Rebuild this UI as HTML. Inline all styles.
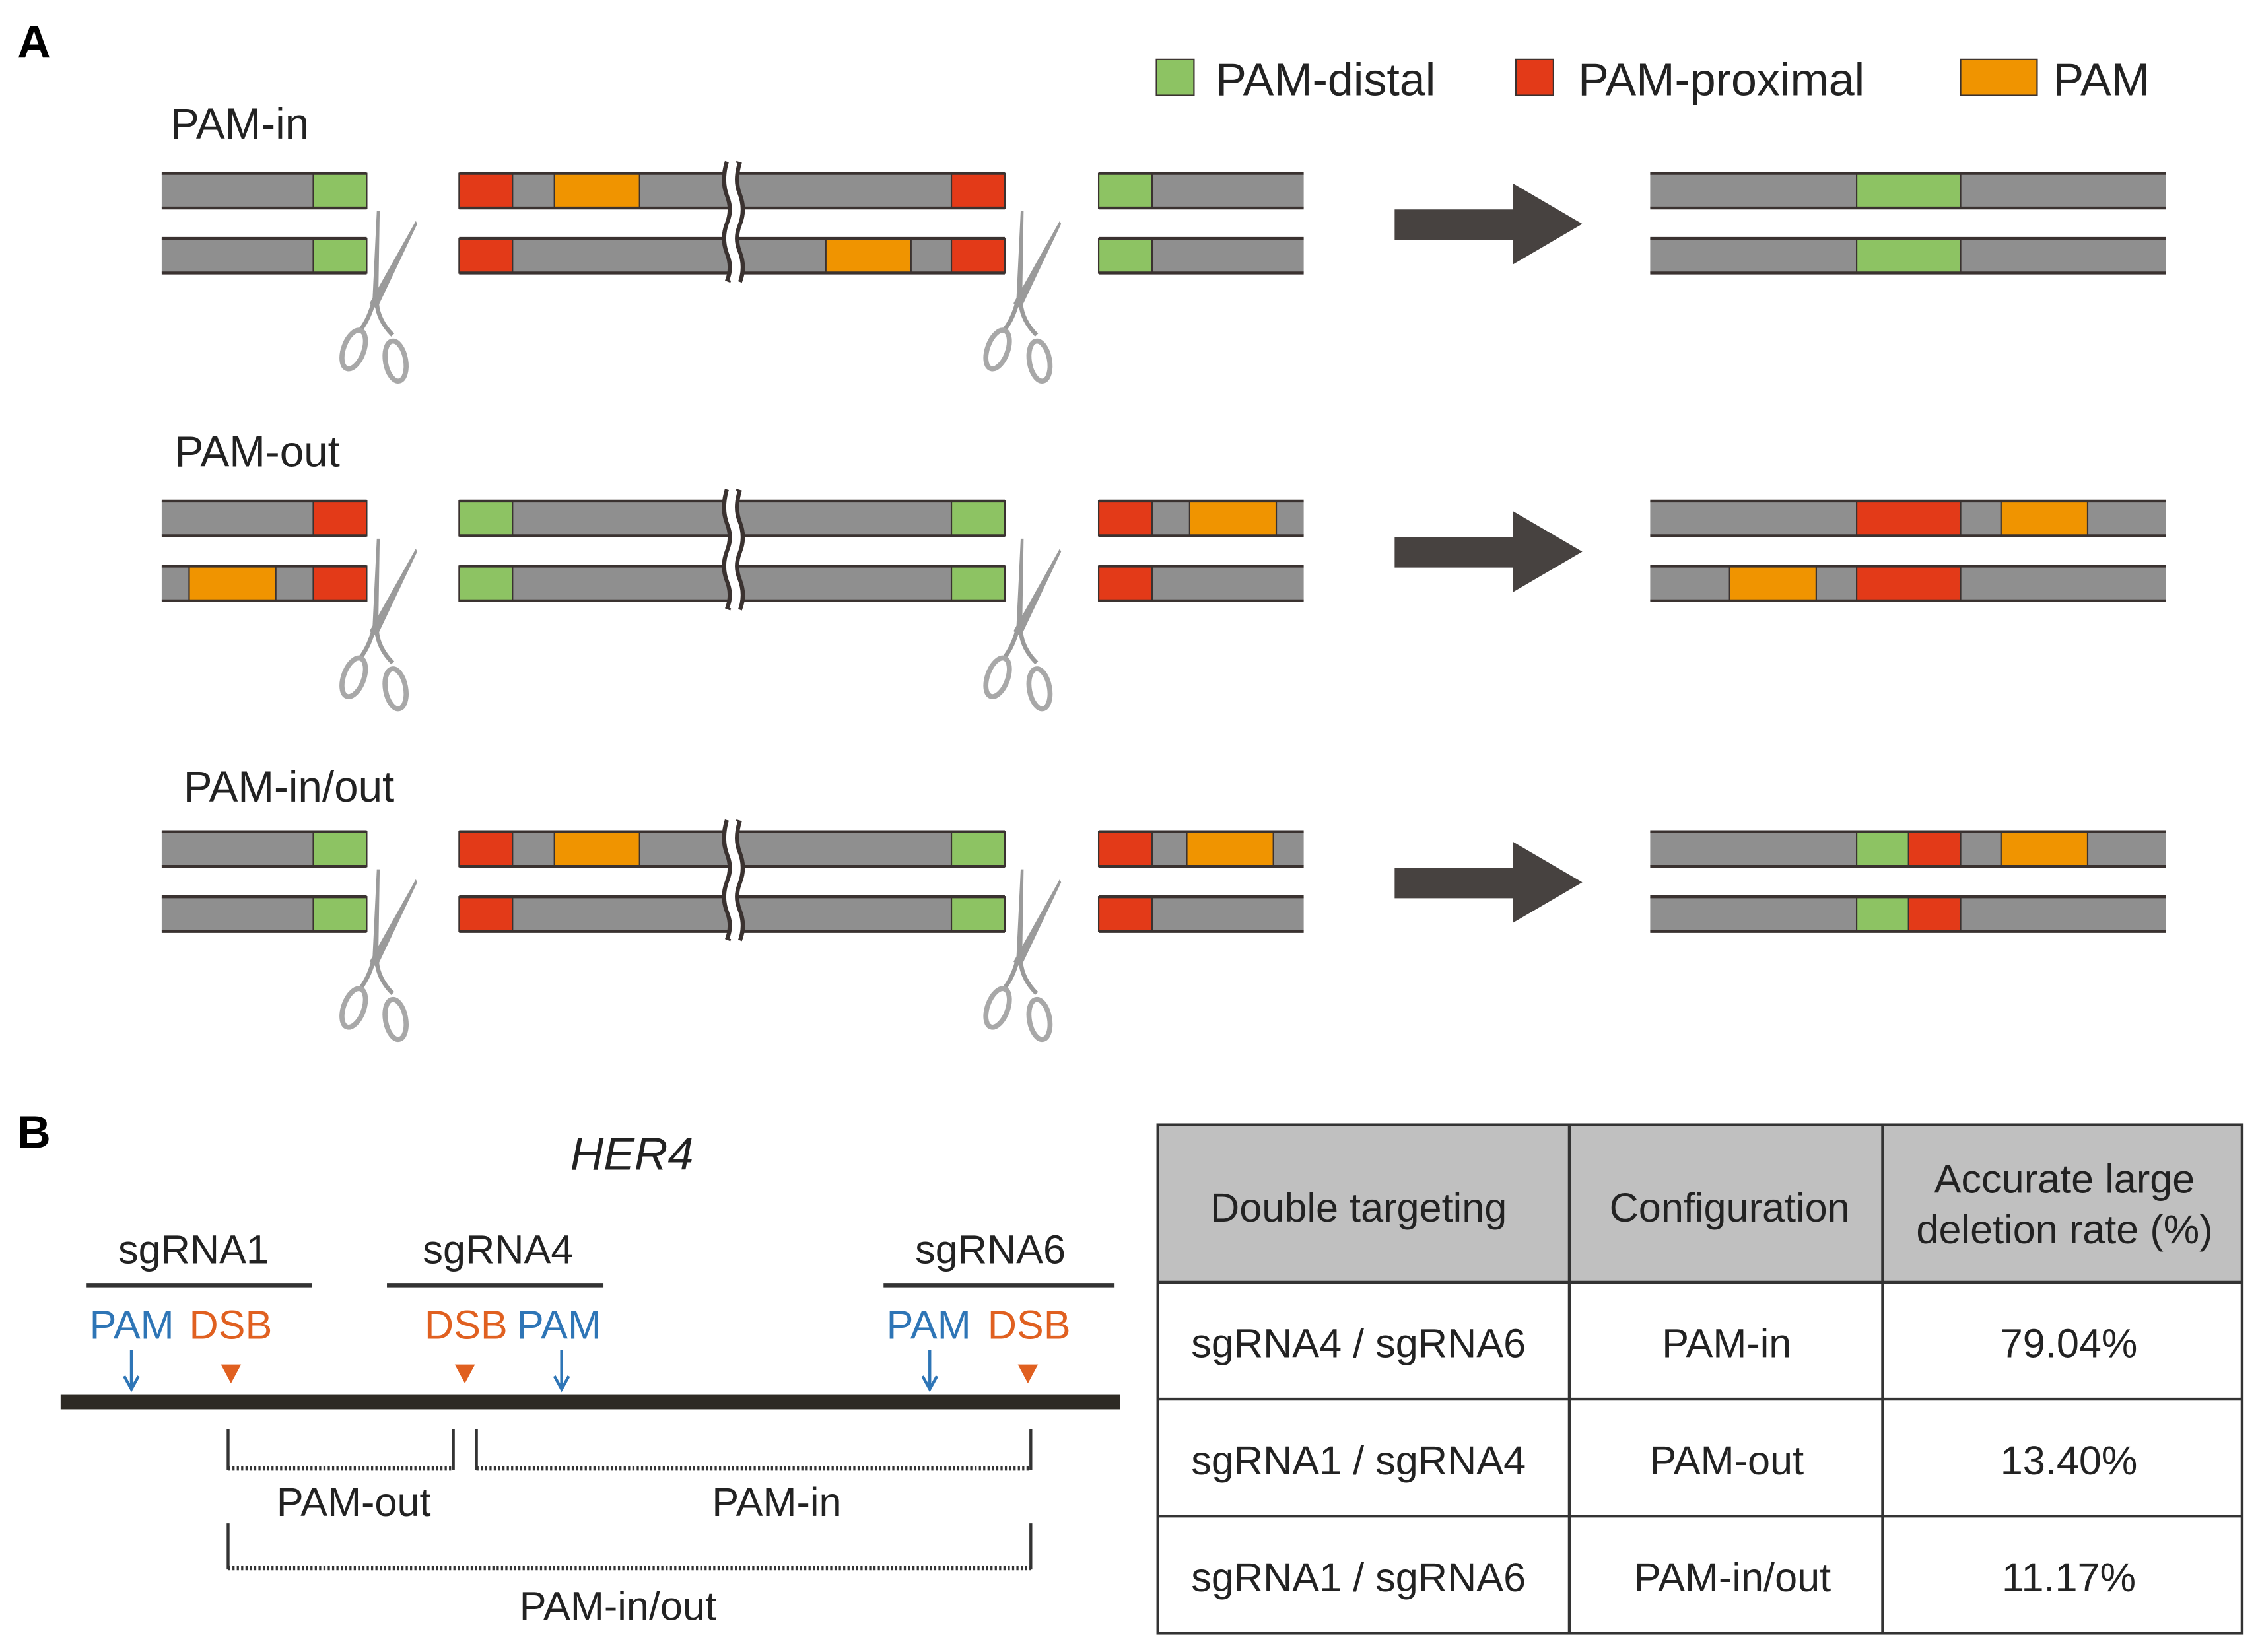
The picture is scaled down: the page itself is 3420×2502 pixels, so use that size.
<!DOCTYPE html>
<html><head><meta charset="utf-8"><style>
html,body{margin:0;padding:0;background:#fff;}
svg{display:block;}
text{font-family:"Liberation Sans",Arial,sans-serif;}
</style></head><body>
<svg width="3420" height="2502" viewBox="0 0 1564 1144" xmlns="http://www.w3.org/2000/svg">
<defs>
<g id="sc">
  <path d="M0,0 L3,-62 L5,-62 L4,0 Z" fill="#9a9a9a"/>
  <path d="M-2,2 L30,-55 L31,-53 L3,6 Z" fill="#9a9a9a"/>
  <path d="M1,0 Q-2,12 -8,20" stroke="#9a9a9a" stroke-width="3" fill="none"/>
  <path d="M3,2 Q4,14 14,24" stroke="#9a9a9a" stroke-width="3" fill="none"/>
  <ellipse cx="-13" cy="34" rx="7" ry="14" transform="rotate(20 -13 34)" fill="none" stroke="#a8a8a8" stroke-width="3.5"/>
  <ellipse cx="16" cy="42" rx="7" ry="14" transform="rotate(-10 16 42)" fill="none" stroke="#a8a8a8" stroke-width="3.5"/>
</g>
<g id="brk">
  <path d="M-4,-8 Q-8,5 -4,15 Q0,25 -4,35 Q-8,45 -4,55 Q0,65 -4,75" stroke="#3a3230" stroke-width="4" fill="none"/>
  <path d="M4,-8 Q0,5 4,15 Q8,25 4,35 Q0,45 4,55 Q8,65 4,75" stroke="#3a3230" stroke-width="4" fill="none"/>
  <path d="M0,-8 Q-4,5 0,15 Q4,25 0,35 Q-4,45 0,55 Q4,65 0,75" stroke="#fff" stroke-width="6" fill="none"/>
</g>
</defs>
<style>
.g{fill:#8f8f8f;}
.gr{fill:#8dc363;stroke:#3a3230;stroke-width:1;}
.rd{fill:#e33a18;stroke:#3a3230;stroke-width:1;}
.or{fill:#f09400;stroke:#3a3230;stroke-width:1;}
.bd{stroke:#3a3230;stroke-width:2;}
</style>

<text x="12" y="40" font-size="32" font-weight="bold">A</text>
<rect x="801" y="41" width="26" height="25" class="gr"/>
<text x="842" y="66" font-size="32" fill="#222">PAM-distal</text>
<rect x="1050" y="41" width="26" height="25" class="rd"/>
<text x="1093" y="66" font-size="32" fill="#222">PAM-proximal</text>
<rect x="1358" y="41" width="53" height="25" class="or"/>
<text x="1422" y="66" font-size="32" fill="#222">PAM</text>

<!-- generic strand drawing via groups per row -->
<g id="row1">
<text x="118" y="96" font-size="30" fill="#222">PAM-in</text>
<!-- top -->
<rect x="112" y="120" width="142" height="24" class="g"/><rect x="217" y="120" width="37" height="24" class="gr"/>
<rect x="318" y="120" width="378" height="24" class="g"/><rect x="318" y="120" width="37" height="24" class="rd"/><rect x="384" y="120" width="59" height="24" class="or"/><rect x="659" y="120" width="37" height="24" class="rd"/>
<rect x="761" y="120" width="142" height="24" class="g"/><rect x="761" y="120" width="37" height="24" class="gr"/>
<rect x="1143" y="120" width="357" height="24" class="g"/><rect x="1286" y="120" width="72" height="24" class="gr"/>
<!-- bottom -->
<rect x="112" y="165" width="142" height="24" class="g"/><rect x="217" y="165" width="37" height="24" class="gr"/>
<rect x="318" y="165" width="378" height="24" class="g"/><rect x="318" y="165" width="37" height="24" class="rd"/><rect x="572" y="165" width="59" height="24" class="or"/><rect x="659" y="165" width="37" height="24" class="rd"/>
<rect x="761" y="165" width="142" height="24" class="g"/><rect x="761" y="165" width="37" height="24" class="gr"/>
<rect x="1143" y="165" width="357" height="24" class="g"/><rect x="1286" y="165" width="72" height="24" class="gr"/>
<g class="bd">
<line x1="112" y1="120" x2="254" y2="120"/><line x1="112" y1="144" x2="254" y2="144"/><line x1="112" y1="165" x2="254" y2="165"/><line x1="112" y1="189" x2="254" y2="189"/>
<line x1="318" y1="120" x2="696" y2="120"/><line x1="318" y1="144" x2="696" y2="144"/><line x1="318" y1="165" x2="696" y2="165"/><line x1="318" y1="189" x2="696" y2="189"/>
<line x1="761" y1="120" x2="903" y2="120"/><line x1="761" y1="144" x2="903" y2="144"/><line x1="761" y1="165" x2="903" y2="165"/><line x1="761" y1="189" x2="903" y2="189"/>
<line x1="1143" y1="120" x2="1500" y2="120"/><line x1="1143" y1="144" x2="1500" y2="144"/><line x1="1143" y1="165" x2="1500" y2="165"/><line x1="1143" y1="189" x2="1500" y2="189"/>
</g>
<use href="#brk" x="508" y="120"/>
<use href="#sc" x="258" y="208"/><use href="#sc" x="704" y="208"/>
<path d="M966,145 H1048 V127 L1096,155 L1048,183 V166 H966 Z" fill="#474240"/>
</g>

<g id="row2">
<text x="121" y="323" font-size="30" fill="#222">PAM-out</text>
<rect x="112" y="347" width="142" height="24" class="g"/><rect x="217" y="347" width="37" height="24" class="rd"/>
<rect x="318" y="347" width="378" height="24" class="g"/><rect x="318" y="347" width="37" height="24" class="gr"/><rect x="659" y="347" width="37" height="24" class="gr"/>
<rect x="761" y="347" width="142" height="24" class="g"/><rect x="761" y="347" width="37" height="24" class="rd"/><rect x="824" y="347" width="60" height="24" class="or"/>
<rect x="1143" y="347" width="357" height="24" class="g"/><rect x="1286" y="347" width="72" height="24" class="rd"/><rect x="1386" y="347" width="60" height="24" class="or"/>
<rect x="112" y="392" width="142" height="24" class="g"/><rect x="131" y="392" width="60" height="24" class="or"/><rect x="217" y="392" width="37" height="24" class="rd"/>
<rect x="318" y="392" width="378" height="24" class="g"/><rect x="318" y="392" width="37" height="24" class="gr"/><rect x="659" y="392" width="37" height="24" class="gr"/>
<rect x="761" y="392" width="142" height="24" class="g"/><rect x="761" y="392" width="37" height="24" class="rd"/>
<rect x="1143" y="392" width="357" height="24" class="g"/><rect x="1198" y="392" width="60" height="24" class="or"/><rect x="1286" y="392" width="72" height="24" class="rd"/>
<g class="bd">
<line x1="112" y1="347" x2="254" y2="347"/><line x1="112" y1="371" x2="254" y2="371"/><line x1="112" y1="392" x2="254" y2="392"/><line x1="112" y1="416" x2="254" y2="416"/>
<line x1="318" y1="347" x2="696" y2="347"/><line x1="318" y1="371" x2="696" y2="371"/><line x1="318" y1="392" x2="696" y2="392"/><line x1="318" y1="416" x2="696" y2="416"/>
<line x1="761" y1="347" x2="903" y2="347"/><line x1="761" y1="371" x2="903" y2="371"/><line x1="761" y1="392" x2="903" y2="392"/><line x1="761" y1="416" x2="903" y2="416"/>
<line x1="1143" y1="347" x2="1500" y2="347"/><line x1="1143" y1="371" x2="1500" y2="371"/><line x1="1143" y1="392" x2="1500" y2="392"/><line x1="1143" y1="416" x2="1500" y2="416"/>
</g>
<use href="#brk" x="508" y="347"/>
<use href="#sc" x="258" y="435"/><use href="#sc" x="704" y="435"/>
<path d="M966,372 H1048 V354 L1096,382 L1048,410 V393 H966 Z" fill="#474240"/>
</g>

<g id="row3">
<text x="127" y="555" font-size="30" fill="#222">PAM-in/out</text>
<rect x="112" y="576" width="142" height="24" class="g"/><rect x="217" y="576" width="37" height="24" class="gr"/>
<rect x="318" y="576" width="378" height="24" class="g"/><rect x="318" y="576" width="37" height="24" class="rd"/><rect x="384" y="576" width="59" height="24" class="or"/><rect x="659" y="576" width="37" height="24" class="gr"/>
<rect x="761" y="576" width="142" height="24" class="g"/><rect x="761" y="576" width="37" height="24" class="rd"/><rect x="822" y="576" width="60" height="24" class="or"/>
<rect x="1143" y="576" width="357" height="24" class="g"/><rect x="1286" y="576" width="36" height="24" class="gr"/><rect x="1322" y="576" width="36" height="24" class="rd"/><rect x="1386" y="576" width="60" height="24" class="or"/>
<rect x="112" y="621" width="142" height="24" class="g"/><rect x="217" y="621" width="37" height="24" class="gr"/>
<rect x="318" y="621" width="378" height="24" class="g"/><rect x="318" y="621" width="37" height="24" class="rd"/><rect x="659" y="621" width="37" height="24" class="gr"/>
<rect x="761" y="621" width="142" height="24" class="g"/><rect x="761" y="621" width="37" height="24" class="rd"/>
<rect x="1143" y="621" width="357" height="24" class="g"/><rect x="1286" y="621" width="36" height="24" class="gr"/><rect x="1322" y="621" width="36" height="24" class="rd"/>
<g class="bd">
<line x1="112" y1="576" x2="254" y2="576"/><line x1="112" y1="600" x2="254" y2="600"/><line x1="112" y1="621" x2="254" y2="621"/><line x1="112" y1="645" x2="254" y2="645"/>
<line x1="318" y1="576" x2="696" y2="576"/><line x1="318" y1="600" x2="696" y2="600"/><line x1="318" y1="621" x2="696" y2="621"/><line x1="318" y1="645" x2="696" y2="645"/>
<line x1="761" y1="576" x2="903" y2="576"/><line x1="761" y1="600" x2="903" y2="600"/><line x1="761" y1="621" x2="903" y2="621"/><line x1="761" y1="645" x2="903" y2="645"/>
<line x1="1143" y1="576" x2="1500" y2="576"/><line x1="1143" y1="600" x2="1500" y2="600"/><line x1="1143" y1="621" x2="1500" y2="621"/><line x1="1143" y1="645" x2="1500" y2="645"/>
</g>
<use href="#brk" x="508" y="576"/>
<use href="#sc" x="258" y="664"/><use href="#sc" x="704" y="664"/>
<path d="M966,601 H1048 V583 L1096,611 L1048,639 V622 H966 Z" fill="#474240"/>
</g>

<!-- Part B -->
<text x="12" y="795" font-size="32" font-weight="bold">B</text>
<text x="395" y="810" font-size="32" font-style="italic" fill="#222">HER4</text>
<g font-size="28" fill="#222" text-anchor="middle">
<text x="134" y="875">sgRNA1</text><text x="345" y="875">sgRNA4</text><text x="686" y="875">sgRNA6</text>
</g>
<g stroke="#333" stroke-width="3">
<line x1="60" y1="890" x2="216" y2="890"/><line x1="268" y1="890" x2="418" y2="890"/><line x1="612" y1="890" x2="772" y2="890"/>
</g>
<g font-size="28">
<text x="62" y="927" fill="#2e75b6">PAM</text><text x="131" y="927" fill="#e06020">DSB</text>
<text x="294" y="927" fill="#e06020">DSB</text><text x="358" y="927" fill="#2e75b6">PAM</text>
<text x="614" y="927" fill="#2e75b6">PAM</text><text x="684" y="927" fill="#e06020">DSB</text>
</g>
<g stroke="#2e75b6" stroke-width="2" fill="none">
<path d="M91,935 V961 M86,953 L91,962 L96,953"/>
<path d="M389,935 V961 M384,953 L389,962 L394,953"/>
<path d="M644,935 V961 M639,953 L644,962 L649,953"/>
</g>
<g fill="#e06020">
<path d="M153,945 H167 L160,958 Z"/><path d="M315,945 H329 L322,958 Z"/><path d="M705,945 H719 L712,958 Z"/>
</g>
<rect x="42" y="966" width="734" height="10" fill="#2e2a24"/>
<g stroke="#333" stroke-width="2" fill="none">
<path d="M158,990 V1018 M314,990 V1018 M330,990 V1018 M714,990 V1018 M158,1055 V1087 M714,1055 V1087"/>
</g>
<g stroke="#333" stroke-width="3" stroke-dasharray="1.5 1.5" fill="none">
<line x1="158" y1="1017" x2="314" y2="1017"/><line x1="330" y1="1017" x2="714" y2="1017"/><line x1="158" y1="1086" x2="714" y2="1086"/>
</g>
<g font-size="28" fill="#222" text-anchor="middle">
<text x="245" y="1050">PAM-out</text><text x="538" y="1050">PAM-in</text><text x="428" y="1122">PAM-in/out</text>
</g>

<!-- Table -->
<rect x="802" y="779" width="751" height="109" fill="#c0c0c0"/>
<g stroke="#333" stroke-width="2" fill="none">
<rect x="802" y="779" width="751" height="352"/>
<line x1="802" y1="888" x2="1553" y2="888"/><line x1="802" y1="969" x2="1553" y2="969"/><line x1="802" y1="1050" x2="1553" y2="1050"/>
<line x1="1087" y1="779" x2="1087" y2="1131"/><line x1="1304" y1="779" x2="1304" y2="1131"/>
</g>
<g font-size="28" fill="#222" text-anchor="middle">
<text x="941" y="846">Double targeting</text><text x="1198" y="846">Configuration</text>
<text x="1430" y="826">Accurate large</text><text x="1430" y="861">deletion rate (%)</text>
<text x="941" y="940">sgRNA4 / sgRNA6</text><text x="1196" y="940">PAM-in</text><text x="1433" y="940">79.04%</text>
<text x="941" y="1021">sgRNA1 / sgRNA4</text><text x="1196" y="1021">PAM-out</text><text x="1433" y="1021">13.40%</text>
<text x="941" y="1102">sgRNA1 / sgRNA6</text><text x="1200" y="1102">PAM-in/out</text><text x="1433" y="1102">11.17%</text>
</g>
</svg>
</body></html>
